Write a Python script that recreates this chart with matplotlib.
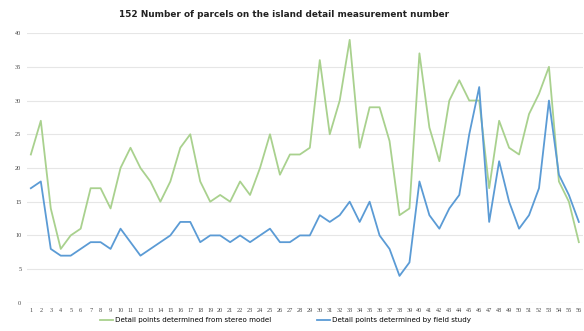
import numpy as np
import matplotlib
matplotlib.use('Agg')
import matplotlib.pyplot as plt

# parcel numbers
parcels = list(range(1, 57))

# detail points from stereo model (green)
stereo = [22, 27, 14, 8, 10, 11, 17, 17, 14, 20, 23, 20, 18, 15, 18, 23, 25, 18, 15, 16,
          15, 18, 16, 20, 25, 19, 22, 22, 23, 36, 25, 30, 39, 23, 29, 29, 24, 13, 14, 37,
          26, 21, 30, 33, 30, 30, 17, 27, 23, 22, 28, 31, 35, 18, 15, 9]

# detail points from field study (blue)
field = [17, 18, 8, 7, 7, 8, 9, 9, 8, 11, 9, 7, 8, 9, 10, 12, 12, 9, 10, 10,
         9, 10, 9, 10, 11, 9, 9, 10, 10, 13, 12, 13, 15, 12, 15, 10, 8, 4, 6, 18,
         13, 11, 14, 16, 25, 32, 12, 21, 15, 11, 13, 17, 30, 19, 16, 12]

yticks = [0, 5, 10, 15, 20, 25, 30, 35, 40]

fig = plt.figure(figsize=(5.84, 3.31), dpi=100)
ax = fig.add_axes([0.046, 0.085, 0.952, 0.815])

ax.plot(parcels, stereo, color='#a9d18e', lw=1.3, label='Detail points determined from stereo model')
ax.plot(parcels, field, color='#5b9bd5', lw=1.3, label='Detail points determined by field study')

ax.set_xlim(0.6, 56.4)
ax.set_ylim(0, 40)
ax.set_yticks(yticks)
ax.set_xticks(parcels)
ax.tick_params(axis='both', length=0, labelsize=4.5, labelcolor='#444444', pad=4)
for lab in ax.get_xticklabels() + ax.get_yticklabels():
    lab.set_family('Liberation Serif')
ax.grid(axis='y', color='#e6e6e6', lw=0.8)
ax.set_axisbelow(True)
for s in ax.spines.values():
    s.set_visible(False)
ax.axhline(0, color='#d9d9d9', lw=0.8)

fig.text(0.486, 0.955, '152 Number of parcels on the island detail measurement number',
         ha='center', va='center', fontsize=6.4, fontweight='bold', color='#222222')

ax.legend(loc='upper center', bbox_to_anchor=(0.465, -0.03), ncol=2, frameon=False,
          fontsize=5.1, handlelength=1.8, columnspacing=6.5, handletextpad=0.3)

fig.savefig('out.png', dpi=100)
